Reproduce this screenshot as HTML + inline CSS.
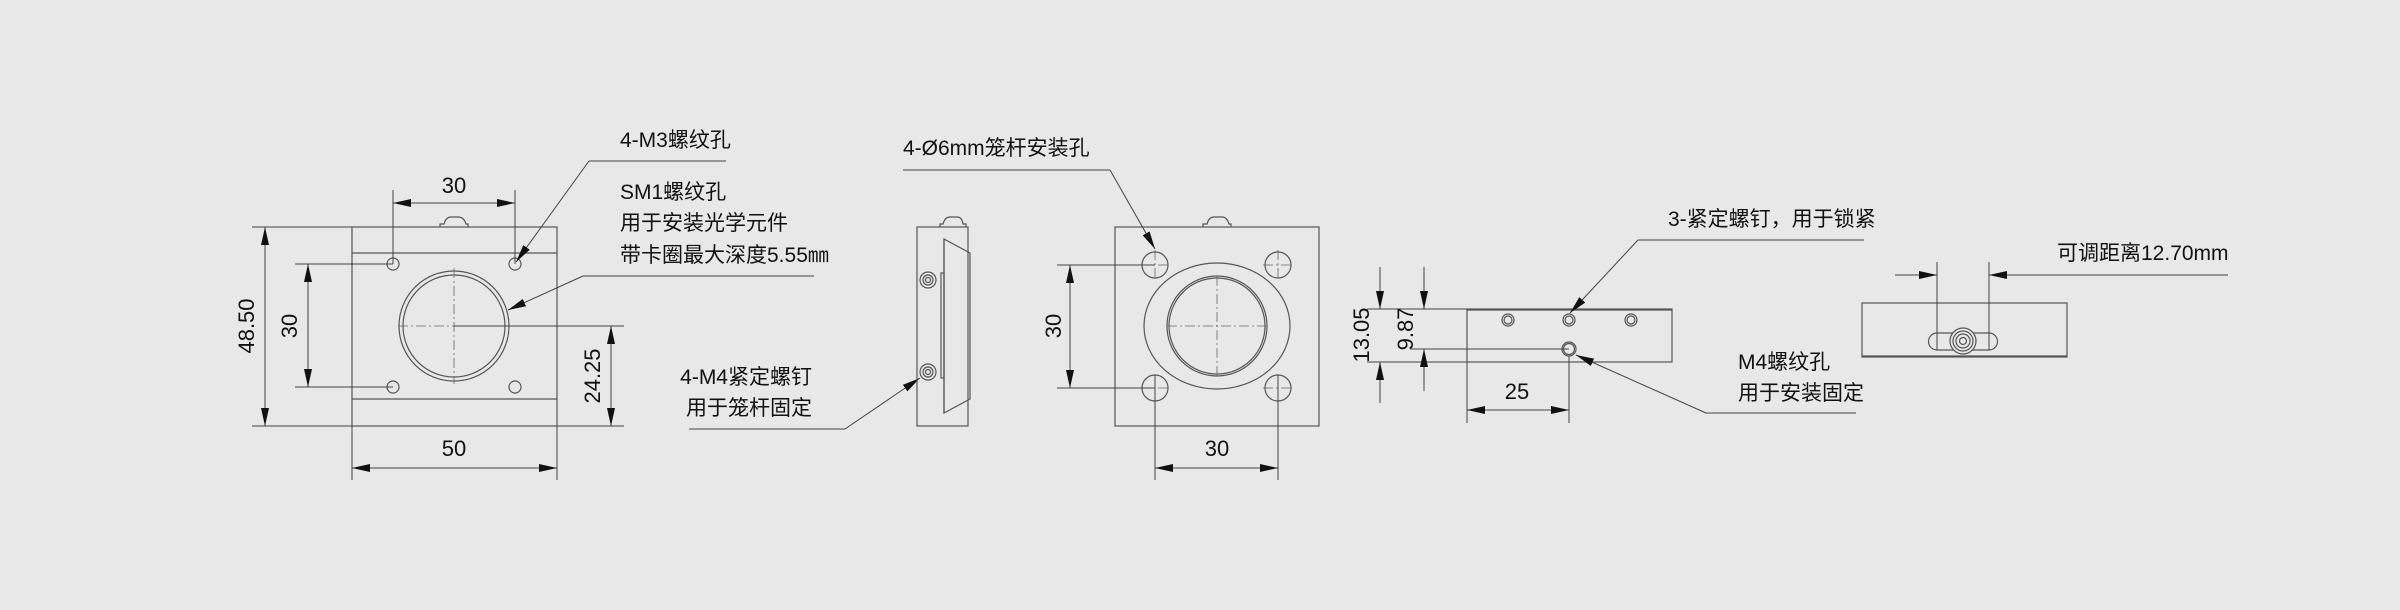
<!DOCTYPE html>
<html><head><meta charset="utf-8"><style>
html,body{margin:0;padding:0;background:#e8e8e8;}
svg{display:block}
text{font-family:"Liberation Sans","Noto Sans CJK SC",sans-serif;fill:#111;font-size:21px;}
.n{font-size:22px}
.l{stroke:#555;stroke-width:1.2;fill:none}
.t{stroke:#444;stroke-width:1;fill:none}
.c{stroke:#666;stroke-width:0.8;fill:none;stroke-dasharray:10 3 2 3}
</style></head><body>
<svg width="2400" height="610" viewBox="0 0 2400 610" xmlns="http://www.w3.org/2000/svg">
<defs>
<marker id="a" viewBox="0 0 18 8" refX="18" refY="4" markerWidth="18" markerHeight="8" markerUnits="userSpaceOnUse" orient="auto-start-reverse"><path d="M0,0 L18,4 L0,8 Z" fill="#111"/></marker>
</defs>
<rect width="2400" height="610" fill="#e8e8e8"/>

<!-- ===== View 1: front ===== -->
<g>
<rect class="l" x="352" y="227" width="205" height="199"/>
<line class="l" x1="352" y1="253" x2="557" y2="253"/>
<line class="l" x1="352" y1="399" x2="557" y2="399"/>
<path class="l" d="M440,227 L440,224 L444,224 Q446,217 451,217 L458,217 Q464,217 466,224 L468,224 L468,227"/>
<ellipse class="l" cx="393" cy="264" rx="6" ry="6"/><ellipse class="l" cx="515" cy="264" rx="6" ry="6"/>
<ellipse class="l" cx="393" cy="387" rx="6" ry="6"/><ellipse class="l" cx="515" cy="387" rx="6" ry="6"/>
<circle class="l" cx="454" cy="326" r="55"/>
<circle class="l" cx="454" cy="326" r="51"/>
<line class="c" x1="454" y1="268" x2="454" y2="384"/>
<line class="c" x1="398" y1="326" x2="510" y2="326"/>
<!-- dims -->
<line class="t" x1="393" y1="190" x2="393" y2="264"/><line class="t" x1="515" y1="190" x2="515" y2="264"/>
<line class="t" x1="393" y1="203" x2="515" y2="203" marker-start="url(#a)" marker-end="url(#a)"/>
<text class="n" x="454" y="193" text-anchor="middle">30</text>
<line class="t" x1="252" y1="227" x2="352" y2="227"/><line class="t" x1="252" y1="426" x2="352" y2="426"/>
<line class="t" x1="265" y1="227" x2="265" y2="426" marker-start="url(#a)" marker-end="url(#a)"/>
<text class="n" transform="translate(254,326) rotate(-90)" text-anchor="middle">48.50</text>
<line class="t" x1="295" y1="264" x2="393" y2="264"/><line class="t" x1="295" y1="387" x2="393" y2="387"/>
<line class="t" x1="308" y1="264" x2="308" y2="387" marker-start="url(#a)" marker-end="url(#a)"/>
<text class="n" transform="translate(297,326) rotate(-90)" text-anchor="middle">30</text>
<line class="t" x1="454" y1="326" x2="624" y2="326"/><line class="t" x1="557" y1="426" x2="624" y2="426"/>
<line class="t" x1="611" y1="326" x2="611" y2="426" marker-start="url(#a)" marker-end="url(#a)"/>
<text class="n" transform="translate(600,376) rotate(-90)" text-anchor="middle">24.25</text>
<line class="t" x1="352" y1="426" x2="352" y2="480"/><line class="t" x1="557" y1="426" x2="557" y2="480"/>
<line class="t" x1="352" y1="468" x2="557" y2="468" marker-start="url(#a)" marker-end="url(#a)"/>
<text class="n" x="454" y="456" text-anchor="middle">50</text>
<!-- labels -->
<text x="620" y="147">4-M3螺纹孔</text>
<line class="t" x1="589" y1="161" x2="726" y2="161"/>
<line class="t" x1="589" y1="161" x2="516" y2="262" marker-end="url(#a)"/>
<text x="620" y="199">SM1螺纹孔</text>
<text x="620" y="230">用于安装光学元件</text>
<text x="620" y="262">带卡圈最大深度5.55㎜</text>
<line class="t" x1="583" y1="276" x2="814" y2="276"/>
<line class="t" x1="583" y1="276" x2="508" y2="310" marker-end="url(#a)"/>
<text x="812" y="384" text-anchor="end">4-M4紧定螺钉</text>
<text x="812" y="415" text-anchor="end">用于笼杆固定</text>
<line class="t" x1="689" y1="429" x2="845" y2="429"/>
<line class="t" x1="845" y1="429" x2="920" y2="378" marker-end="url(#a)"/>
</g>

<!-- ===== View 2: side ===== -->
<g>
<rect class="l" x="917" y="227" width="51" height="199"/>
<path class="l" d="M940,227 L940,224 L943,224 Q945,217 950,217 L957,217 Q962,217 963,224 L966,224 L966,227"/>
<path class="l" d="M944,239 L970,253 L970,399 L944,413 Z"/>
<line class="l" x1="944" y1="239" x2="944" y2="413"/>
<rect class="l" x="941" y="273" width="3" height="105"/>
<circle class="l" cx="928" cy="280" r="8"/><circle class="l" cx="928" cy="280" r="5"/><circle class="l" cx="928" cy="280" r="2.5"/>
<circle class="l" cx="928" cy="372" r="8"/><circle class="l" cx="928" cy="372" r="5"/><circle class="l" cx="928" cy="372" r="2.5"/>
</g>

<!-- ===== View 3: plate ===== -->
<g>
<rect class="l" x="1115" y="227" width="204" height="199"/>
<path class="l" d="M1203,227 L1203,224 L1207,224 Q1209,217 1214,217 L1222,217 Q1227,217 1229,224 L1231,224 L1231,227"/>
<circle class="l" cx="1155" cy="265" r="13"/><circle class="l" cx="1278" cy="265" r="13"/>
<circle class="l" cx="1155" cy="388" r="13"/><circle class="l" cx="1278" cy="388" r="13"/>
<ellipse class="l" cx="1217" cy="326" rx="73" ry="63"/>
<circle class="l" cx="1217" cy="326" r="50"/><circle class="l" cx="1217" cy="326" r="48"/>
<line class="c" x1="1217" y1="276" x2="1217" y2="376"/><line class="c" x1="1167" y1="326" x2="1267" y2="326"/>
<line class="c" x1="1155" y1="250" x2="1155" y2="280"/><line class="c" x1="1278" y1="250" x2="1278" y2="280"/>
<line class="c" x1="1140" y1="265" x2="1170" y2="265"/><line class="c" x1="1263" y1="265" x2="1293" y2="265"/>
<line class="c" x1="1140" y1="388" x2="1170" y2="388"/><line class="c" x1="1263" y1="388" x2="1293" y2="388"/>
<line class="t" x1="1057" y1="265" x2="1155" y2="265"/><line class="t" x1="1057" y1="388" x2="1155" y2="388"/>
<line class="t" x1="1070" y1="265" x2="1070" y2="388" marker-start="url(#a)" marker-end="url(#a)"/>
<text class="n" transform="translate(1061,326) rotate(-90)" text-anchor="middle">30</text>
<line class="t" x1="1155" y1="375" x2="1155" y2="480"/><line class="t" x1="1278" y1="375" x2="1278" y2="480"/>
<line class="t" x1="1155" y1="468" x2="1278" y2="468" marker-start="url(#a)" marker-end="url(#a)"/>
<text class="n" x="1217" y="456" text-anchor="middle">30</text>
<text x="903" y="155">4-Ø6mm笼杆安装孔</text>
<line class="t" x1="903" y1="170" x2="1110" y2="170"/>
<line class="t" x1="1110" y1="170" x2="1155" y2="249" marker-end="url(#a)"/>
</g>

<!-- ===== View 4: top bar ===== -->
<g>
<rect class="l" x="1467" y="309" width="205" height="53"/>
<line class="l" x1="1467" y1="310" x2="1672" y2="310"/>
<circle class="l" cx="1508" cy="320" r="6"/><circle class="l" cx="1508" cy="320" r="4"/>
<circle class="l" cx="1569" cy="320" r="6"/><circle class="l" cx="1569" cy="320" r="4"/>
<circle class="l" cx="1631" cy="320" r="6"/><circle class="l" cx="1631" cy="320" r="4"/>
<circle class="l" cx="1569" cy="349" r="7"/><circle class="l" cx="1569" cy="349" r="5.5"/>
<line class="t" x1="1410" y1="349" x2="1569" y2="349"/>
<line class="t" x1="1367" y1="309" x2="1467" y2="309"/><line class="t" x1="1367" y1="362" x2="1467" y2="362"/>
<line class="t" x1="1380" y1="267" x2="1380" y2="309" marker-end="url(#a)"/>
<line class="t" x1="1380" y1="403" x2="1380" y2="362" marker-end="url(#a)"/>
<line class="t" x1="1424" y1="267" x2="1424" y2="309" marker-end="url(#a)"/>
<line class="t" x1="1424" y1="391" x2="1424" y2="349" marker-end="url(#a)"/>
<text class="n" transform="translate(1369,335) rotate(-90)" text-anchor="middle">13.05</text>
<text class="n" transform="translate(1413,329) rotate(-90)" text-anchor="middle">9.87</text>
<line class="t" x1="1467" y1="362" x2="1467" y2="423"/><line class="t" x1="1569" y1="356" x2="1569" y2="423"/>
<line class="t" x1="1467" y1="410" x2="1569" y2="410" marker-start="url(#a)" marker-end="url(#a)"/>
<text class="n" x="1517" y="399" text-anchor="middle">25</text>
<text x="1668" y="226">3-紧定螺钉，用于锁紧</text>
<line class="t" x1="1638" y1="240" x2="1864" y2="240"/>
<line class="t" x1="1638" y1="240" x2="1570" y2="313" marker-end="url(#a)"/>
<text x="1738" y="369">M4螺纹孔</text>
<text x="1738" y="400">用于安装固定</text>
<line class="t" x1="1706" y1="413" x2="1856" y2="413"/>
<line class="t" x1="1706" y1="413" x2="1576" y2="355" marker-end="url(#a)"/>
</g>

<!-- ===== View 5 ===== -->
<g>
<rect class="l" x="1862" y="303" width="205" height="54"/>
<line class="l" x1="1862" y1="356" x2="2067" y2="356"/>
<path class="l" d="M1937,333 L1989,333 A8.5,8.5 0 0 1 1989,350 L1937,350 A8.5,8.5 0 0 1 1937,333 Z"/>
<circle class="l" cx="1963" cy="341" r="13" style="fill:#e8e8e8"/>
<circle class="l" cx="1963" cy="341" r="10"/><circle class="l" cx="1963" cy="341" r="7"/><circle class="l" cx="1963" cy="341" r="3.5"/>
<line class="t" x1="1937" y1="262" x2="1937" y2="350"/><line class="t" x1="1989" y1="262" x2="1989" y2="350"/>
<line class="t" x1="1895" y1="275" x2="1937" y2="275" marker-end="url(#a)"/>
<line class="t" x1="2228" y1="275" x2="1989" y2="275" marker-end="url(#a)"/>
<text x="2057" y="260">可调距离12.70mm</text>
</g>
</svg>
</body></html>
